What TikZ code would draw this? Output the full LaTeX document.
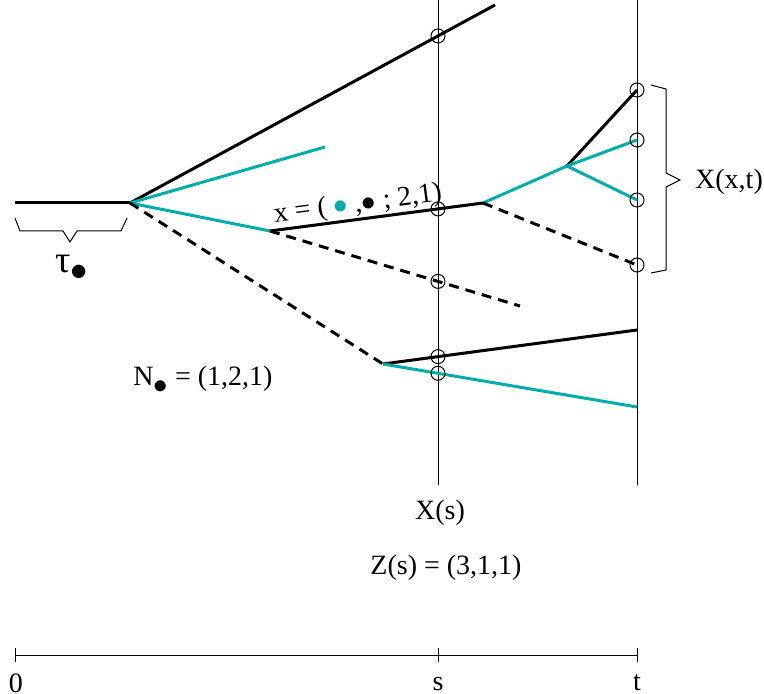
\documentclass[tikz,border=0pt]{standalone}
\usepackage{fontspec}
\setmainfont{Liberation Serif}
\usepackage{amssymb}
\usetikzlibrary{positioning}
\definecolor{brcyan}{RGB}{0,172,172}

\begin{document}
\begin{tikzpicture}[x=0.5pt, y=-0.5pt,
    every node/.style={font=\fontsize{14}{17}\selectfont},
    life/.style={line width=1.5pt},
    lifec/.style={line width=1.5pt, brcyan},
    ghost/.style={line width=1.5pt, dash pattern=on 5pt off 3.5pt},
    tline/.style={line width=0.5pt},
    hit/.style={draw, circle, minimum size=7pt, inner sep=0pt, line width=0.5pt}]
    \useasboundingbox (0,0) rectangle (764,694);

    % time lines
    \coordinate (sTop) at (438,0);
    \coordinate (sBot) at (438,485);
    \coordinate (tTop) at (637,0);
    \coordinate (tBot) at (637,485);
    \draw[tline] (sTop) -- (sBot);
    \draw[tline] (tTop) -- (tBot);

    % branch points
    \coordinate (root0) at (15,203);
    \coordinate (r) at (130,203);
    \coordinate (top) at (495,5);
    \coordinate (cend) at (325,147);
    \coordinate (a) at (270,231);
    \coordinate (b) at (383,364);
    \coordinate (c) at (483,203);
    \coordinate (aend) at (520,306);
    \coordinate (d) at (567,166);
    \coordinate (t1) at (637,90);
    \coordinate (t2) at (637,140);
    \coordinate (t3) at (637,200);
    \coordinate (t4) at (637,265);
    \coordinate (t5) at (637,330);
    \coordinate (t6) at (637,407);

    \draw[life] (root0) -- (r);
    \draw[life] (r) -- (top);
    \draw[lifec] (r) -- (cend);
    \draw[lifec] (r) -- (a);
    \draw[ghost] (r) -- (b);
    \draw[life] (a) -- (c);
    \draw[ghost] (a) -- (aend);
    \draw[lifec] (c) -- (d);
    \draw[ghost] (c) -- (t4);
    \draw[life] (d) -- (t1);
    \draw[lifec] (d) -- (t2);
    \draw[lifec] (d) -- (t3);
    \draw[life] (b) -- (t5);
    \draw[lifec] (b) -- (t6);

    % crossings with s
    \node[hit] (s1) at (intersection of r--top and sTop--sBot) {};
    \node[hit] (s2) at (intersection of a--c and sTop--sBot) {};
    \node[hit] (s3) at (intersection of a--aend and sTop--sBot) {};
    \node[hit] (s4) at (intersection of b--t5 and sTop--sBot) {};
    \node[hit] (s5) at (intersection of b--t6 and sTop--sBot) {};
    % alive at t
    \foreach \p in {t1,t2,t3,t4}
        \node[hit] (q\p) at (\p) {};

    % braces
    \draw[tline] (15,218) -- (20,231) -- (63,231) -- (70,242) -- (77,231)
        -- (121,231) -- (127,218);
    \draw[tline] (651,85) -- (666,89) -- (666,173) -- (680,180) -- (666,187)
        -- (666,270) -- (651,273);

    % labels
    \node (tau) at (72,268) {\fontsize{19}{22}\selectfont τ\raisebox{-0.45ex}{$\bullet$}};
    \node[rotate=7.5] (xlab) at (358,205)
        {x = ( {\color{brcyan}$\bullet$} ,$\bullet$ ; 2,1)};
    \node (xxt) at (729,182) {X(x,t)};
    \node (nlab) at (203,380) {N\raisebox{-0.6ex}{$\bullet$} = (1,2,1)};
    \node (xs) at (440,513) {X(s)};
    \node (zs) at (446,568) {Z(s) = (3,1,1)};

    % time axis
    \coordinate (o) at (15,655);
    \coordinate (ts) at (438,655);
    \coordinate (tt) at (637,655);
    \draw[tline] (o) -- (tt);
    \foreach \p in {o,ts,tt}
        \draw[tline] ([yshift=-3.5pt]\p) -- ([yshift=3.5pt]\p);
    \node (l0) at (16,683) {0};
    \node (ls) at (438,684) {s};
    \node (lt) at (637,683) {t};
\end{tikzpicture}
\end{document}
